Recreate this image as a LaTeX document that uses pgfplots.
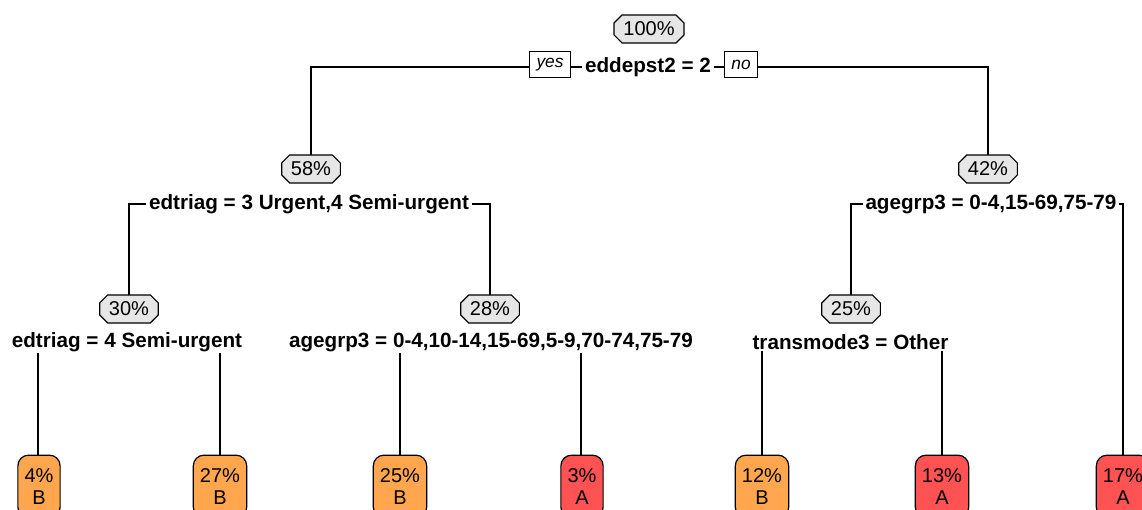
\documentclass[border=0pt]{standalone}
\usepackage{pgfplots}
\pgfplotsset{compat=1.18}
\usepackage{fontspec}
\setmainfont{Liberation Sans}
\usetikzlibrary{shapes.misc}
\definecolor{pctgray}{HTML}{E6E6E6}
\definecolor{leafor}{HTML}{FFA64F}
\definecolor{leafrd}{HTML}{FF5252}
\begin{document}
\begin{tikzpicture}
\useasboundingbox (0,0) rectangle (856.5pt,382.5pt);
\clip (0,0) rectangle (856.5pt,382.5pt);
\begin{pgfinterruptboundingbox}
\begin{axis}[at={(0,0)}, anchor=south west, scale only axis,
  width=856.5pt, height=382.5pt, xmin=0, xmax=1142, ymin=0, ymax=510,
  hide axis, clip=false]
% --- branches
\pgfplotsset{every axis plot/.append style={line width=0.9pt, black}}
\addplot[mark=none] coordinates {(311,341) (311,443) (988,443) (988,341)};
\addplot[mark=none] coordinates {(129,201) (129,306) (490,306) (490,201)};
\addplot[mark=none] coordinates {(851,201) (851,306) (1123,306) (1123,23.5)};
\addplot[mark=none] coordinates {(38,23.5) (38,168) (220,168) (220,23.5)};
\addplot[mark=none] coordinates {(400,23.5) (400,168) (581,168) (581,23.5)};
\addplot[mark=none] coordinates {(762,23.5) (762,168) (942,168) (942,23.5)};
% --- split labels
\addplot[draw=none, mark=none, nodes near coords, point meta=explicit symbolic,
  nodes near coords align=center,
  every node near coord/.style={anchor=center, fill=white, inner xsep=2pt, inner ysep=1pt,
    font=\fontsize{15.5}{18}\selectfont\bfseries, text=black}]
  coordinates {(648,443) [eddepst2 = 2]
               (309,306) [edtriag = 3 Urgent,4 Semi-urgent]
               (991,306) [agegrp3 = 0-4,15-69,75-79]
               (127,168) [edtriag = 4 Semi-urgent]
               (491,168) [agegrp3 = 0-4,10-14,15-69,5-9,70-74,75-79]
               (850.5,168) [transmode3 = Other]};
% --- yes / no
\addplot[draw=none, mark=none, nodes near coords, point meta=explicit symbolic,
  every node near coord/.style={anchor=center, fill=white, draw=black, line width=0.9pt,
    inner xsep=5pt, inner ysep=0pt, minimum height=19pt,
    font=\fontsize{13}{15}\selectfont\itshape, text=black}]
  coordinates {(550,445.5) [yes] (741,445.5) [no]};
% --- percentage nodes
\addplot[draw=none, mark=none, nodes near coords, point meta=explicit symbolic,
  every node near coord/.style={anchor=center, chamfered rectangle, chamfered rectangle xsep=3pt,
    chamfered rectangle ysep=3pt, fill=pctgray, draw=black, line width=0.9pt,
    inner xsep=4pt, inner ysep=1pt, minimum height=21pt,
    font=\fontsize{15}{17}\selectfont, text=black}]
  coordinates {(649,481) [100\%] (311,341) [58\%] (988,341) [42\%]
               (129,201) [30\%] (490,201) [28\%] (851,201) [25\%]};
% --- leaves (class B)
\addplot[draw=none, mark=none, nodes near coords, point meta=explicit symbolic,
  every node near coord/.style={anchor=center, rectangle, rounded corners=8pt, align=center,
    fill=leafor, draw=black, line width=0.9pt, inner xsep=5pt, minimum height=47pt,
    font=\fontsize{15}{17}\selectfont, text=black}]
  coordinates {(39,23.5) [4\%\\B] (220,23.5) [27\%\\B] (400,23.5) [25\%\\B] (762,23.5) [12\%\\B]};
% --- leaves (class A)
\addplot[draw=none, mark=none, nodes near coords, point meta=explicit symbolic,
  every node near coord/.style={anchor=center, rectangle, rounded corners=8pt, align=center,
    fill=leafrd, draw=black, line width=0.9pt, inner xsep=5pt, minimum height=47pt,
    font=\fontsize{15}{17}\selectfont, text=black}]
  coordinates {(582,23.5) [3\%\\A] (942,23.5) [13\%\\A] (1123,23.5) [17\%\\A]};
\end{axis}
\end{pgfinterruptboundingbox}
\end{tikzpicture}
\end{document}
